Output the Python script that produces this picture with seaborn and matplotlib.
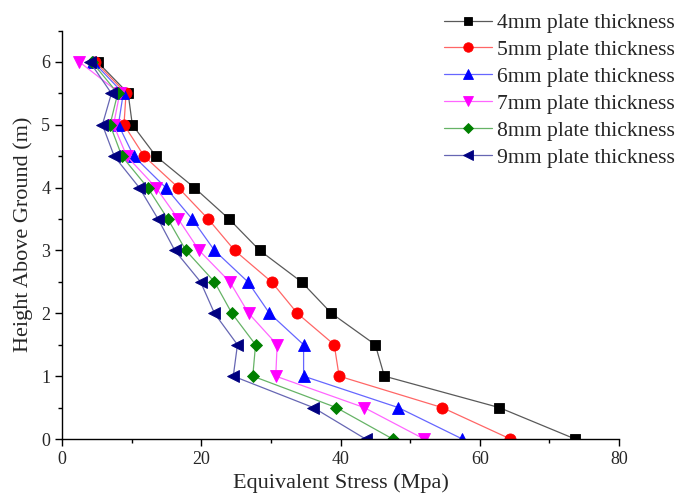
import matplotlib
matplotlib.use("Agg")
import matplotlib.pyplot as plt
from matplotlib.ticker import MultipleLocator
import matplotlib.colors as mcolors
import seaborn as sns
import pandas as pd
import numpy as np

heights = [0, 0.5, 1, 1.5, 2, 2.5, 3, 3.5, 4, 4.5, 5, 5.5, 6]
s4 = [73.7, 62.8, 46.3, 45.0, 38.7, 34.4, 28.4, 24.0, 19.0, 13.5, 10.1, 9.5, 5.1]
s5 = [64.4, 54.6, 39.8, 39.1, 33.8, 30.1, 24.8, 21.0, 16.7, 11.8, 8.9, 9.2, 4.8]
s6 = [57.5, 48.3, 34.7, 34.7, 29.8, 26.7, 21.9, 18.7, 14.9, 10.3, 8.1, 8.8, 4.5]
s7 = [52.0, 43.4, 30.7, 30.9, 26.8, 24.1, 19.7, 16.7, 13.5, 9.3, 7.4, 8.3, 2.5]
s8 = [47.5, 39.4, 27.4, 27.8, 24.4, 21.9, 17.8, 15.2, 12.3, 8.6, 6.9, 8.0, 4.3]
s9 = [43.6, 36.1, 24.6, 25.2, 21.9, 19.9, 16.2, 13.8, 11.1, 7.5, 5.8, 7.1, 4.0]
labels = ["4mm plate thickness", "5mm plate thickness", "6mm plate thickness",
          "7mm plate thickness", "8mm plate thickness", "9mm plate thickness"]
series = [s4, s5, s6, s7, s8, s9]

colors = ["#000000", "#FF0000", "#0000FF", "#FF00FF", "#008000", "#000080"]
markers = ["s", "o", "^", "v", "D", "<"]
msizes = [7, 8, 8, 8, 6.5, 8]

sns.set_style("ticks")
plt.rcParams["font.family"] = ["Liberation Serif", "DejaVu Serif"]

fig = plt.figure(figsize=(6.79, 4.96), dpi=100)
ax = fig.add_axes([62 / 679, 1 - 439 / 496, (619 - 62) / 679, (439 - 30.5) / 496])

def lighten(c, amt=0.45):
    r, g, b = mcolors.to_rgb(c)
    return (r + (1 - r) * amt, g + (1 - g) * amt, b + (1 - b) * amt)

handles = []
for lab, s, c, m, ms in zip(labels, series, colors, markers, msizes):
    df = pd.DataFrame({"stress": s, "height": heights})
    sns.lineplot(data=df, x="stress", y="height", sort=False, estimator=None,
                 ax=ax, color=c, marker=m, markersize=ms, linewidth=0.9,
                 markeredgewidth=0.6, label=lab, legend=False)
    ln = ax.get_lines()[-1]
    lc = (0.35, 0.35, 0.35) if c == "#000000" else lighten(c, 0.4)
    ln.set_color(lc)
    ln.set_markerfacecolor(c)
    ln.set_markeredgecolor(c)
    handles.append(ln)

ax.set_xlim(0, 80)
ax.set_ylim(0, 6.5)
ax.xaxis.set_major_locator(MultipleLocator(20))
ax.xaxis.set_minor_locator(MultipleLocator(10))
ax.yaxis.set_major_locator(MultipleLocator(1))
ax.yaxis.set_minor_locator(MultipleLocator(0.5))
ax.tick_params(which="major", direction="out", length=5, width=1, labelsize=13, color="black")
ax.tick_params(which="minor", direction="out", length=3, width=1, color="black")
sns.despine(ax=ax)
for sp in ["left", "bottom"]:
    ax.spines[sp].set_color("black")
    ax.spines[sp].set_linewidth(1)

ax.set_xlabel("Equivalent Stress (Mpa)", fontsize=16, labelpad=4)
ax.set_ylabel("Height Above Ground (m)", fontsize=16, labelpad=6)

leg = ax.legend(handles=handles, labels=labels, loc="upper left",
                bbox_to_anchor=(444 / 679, 1 - 13 / 496), bbox_transform=fig.transFigure,
                frameon=False, fontsize=15.6, handlelength=2.2, handletextpad=0.25,
                borderpad=0, borderaxespad=0, labelspacing=0.31, markerscale=0.85)

fig.savefig("out.png", dpi=100)
